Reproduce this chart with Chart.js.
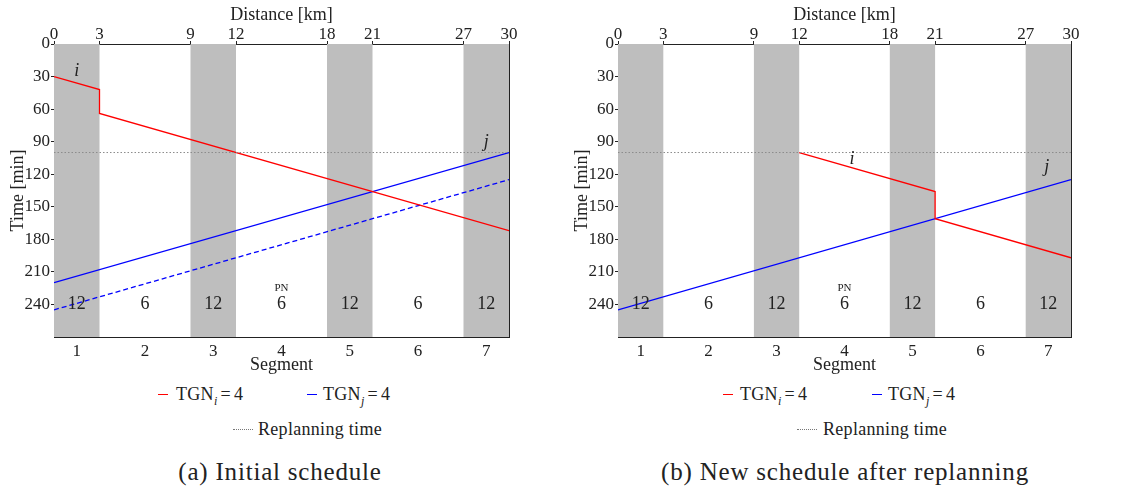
<!DOCTYPE html>
<html>
<head>
<meta charset="utf-8">
<script src="https://cdn.jsdelivr.net/npm/chart.js@4.4.0/dist/chart.umd.min.js"></script>
<style>
body{margin:0;background:#fff;width:1123px;height:492px;position:relative;overflow:hidden;font-family:"Liberation Serif",serif;color:#222;}
canvas{position:absolute;top:0;}
.lg{position:absolute;font-size:18px;line-height:20px;letter-spacing:0.3px;white-space:nowrap;}
.lg sub{font-size:12px;line-height:0;}
.eq{margin:0 3px;}
.sw{position:absolute;height:0;}
.cap{position:absolute;font-size:25px;letter-spacing:0.8px;transform:translateX(-50%);white-space:nowrap;}
</style>
</head>
<body>
<canvas id="chartA" width="530" height="380" style="left:0px"></canvas>
<canvas id="chartB" width="528" height="380" style="left:564px"></canvas>

<div class="sw" style="left:158px;top:394px;width:10px;border-top:1.5px solid #ff0000"></div>
<div class="lg" style="left:176px;top:384px">TGN<sub><i>i</i></sub><span class="eq">=</span>4</div>
<div class="sw" style="left:307px;top:394px;width:10px;border-top:1.5px solid #0000ff"></div>
<div class="lg" style="left:323px;top:384px">TGN<sub><i>j</i></sub><span class="eq">=</span>4</div>
<div class="sw" style="left:233px;top:429px;width:20px;border-top:1.5px dotted #777"></div>
<div class="lg" style="left:258px;top:419px">Replanning time</div>
<div class="cap" style="left:280px;top:458px">(a) Initial schedule</div>

<div class="sw" style="left:723px;top:394px;width:10px;border-top:1.5px solid #ff0000"></div>
<div class="lg" style="left:740px;top:384px">TGN<sub><i>i</i></sub><span class="eq">=</span>4</div>
<div class="sw" style="left:872px;top:394px;width:10px;border-top:1.5px solid #0000ff"></div>
<div class="lg" style="left:888px;top:384px">TGN<sub><i>j</i></sub><span class="eq">=</span>4</div>
<div class="sw" style="left:797px;top:429px;width:20px;border-top:1.5px dotted #777"></div>
<div class="lg" style="left:823px;top:419px">Replanning time</div>
<div class="cap" style="left:845px;top:458px">(b) New schedule after replanning</div>

<script>
// ================= DATA =================
const distanceTicks = [0, 3, 9, 12, 18, 21, 27, 30];   // segment boundaries [km]
const timeTicks = [0, 30, 60, 90, 120, 150, 180, 210, 240];
const timeMax = 270;
const segmentNames = ["1", "2", "3", "4", "5", "6", "7"];
const segmentTGN = ["12", "6", "12", "6", "12", "6", "12"];
const shadedSegments = [1, 3, 5, 7];
const replanTime = 100;

// (a) initial schedule
const initRedX = [0, 3, 3, 30];
const initRedY = [30, 42, 64, 172];
const initBlueX = [0, 30];
const initBlueY = [220, 100];
const initBlueDashX = [0, 30];
const initBlueDashY = [245, 125];

// (b) after replanning
const newRedX = [12, 21, 21, 30];
const newRedY = [100, 136, 161, 197];
const newBlueX = [0, 30];
const newBlueY = [245, 125];

const textColor = "#222";
const serif = "'Liberation Serif', serif";

function pts(xs, ys){
    return xs.map((x, k) => ({x: x, y: ys[k]}));
}

function lineSet(xs, ys, color, dash){
    return {
        data: pts(xs, ys),
        borderColor: color,
        borderWidth: 1.3,
        borderDash: dash || [],
        showLine: true,
        pointRadius: 0,
        fill: false
    };
}

// ================= PLUGIN: bands + annotations =================
function schedulePlugin(tags){
    return {
        id: "schedule",
        beforeDatasetsDraw(chart){
            const {ctx, chartArea: a, scales: {x}} = chart;
            ctx.save();
            ctx.fillStyle = "#bebebe";
            shadedSegments.forEach(s => {
                const x0 = x.getPixelForValue(distanceTicks[s - 1]);
                const x1 = x.getPixelForValue(distanceTicks[s]);
                ctx.fillRect(x0, a.top, x1 - x0, a.bottom - a.top);
            });
            ctx.restore();
        },
        afterDatasetsDraw(chart){
            const {ctx, scales: {x, y}} = chart;
            ctx.save();
            ctx.fillStyle = textColor;
            ctx.textAlign = "center";
            ctx.textBaseline = "middle";
            ctx.font = "18px " + serif;
            segmentTGN.forEach((t, s) => {
                const mid = (distanceTicks[s] + distanceTicks[s + 1]) / 2;
                ctx.fillText(t, x.getPixelForValue(mid), y.getPixelForValue(240));
            });
            ctx.font = "11px " + serif;
            ctx.fillText("PN", x.getPixelForValue(15), y.getPixelForValue(225));
            ctx.font = "italic 18px " + serif;
            tags.forEach(t => {
                ctx.fillText(t.text, x.getPixelForValue(t.x), y.getPixelForValue(t.y));
            });
            ctx.restore();
        }
    };
}

// ================= CHART =================
function makeChart(id, datasets, tags, padRight){

    const ctx = document.getElementById(id).getContext("2d");

    return new Chart(ctx, {
        type: "scatter",
        data: { datasets: datasets },
        plugins: [schedulePlugin(tags)],
        options: {
            responsive: false,
            animation: false,
            layout: { padding: { left: 0, right: padRight, top: 0, bottom: 0 } },
            plugins: { legend: { display: false }, tooltip: { enabled: false } },
            scales: {
                x: {
                    type: "linear", position: "bottom", min: 0, max: 30,
                    afterBuildTicks: s => {
                        s.ticks = segmentNames.map((n, k) => ({value: (distanceTicks[k] + distanceTicks[k + 1]) / 2}));
                    },
                    afterFit: s => { s.height = 43; },
                    ticks: {
                        autoSkip: false, maxRotation: 0, padding: 6,
                        color: textColor, font: {family: serif, size: 17, lineHeight: 1},
                        callback: (v, k) => segmentNames[k]
                    },
                    grid: { display: false, drawTicks: false },
                    border: { display: true, color: "#222", width: 1 },
                    title: { display: true, text: "Segment", color: textColor,
                             font: {family: serif, size: 18}, padding: {top: 0, bottom: 4} }
                },
                x2: {
                    type: "linear", position: "top", min: 0, max: 30,
                    afterBuildTicks: s => { s.ticks = distanceTicks.map(v => ({value: v})); },
                    afterFit: s => { s.height = 44; },
                    ticks: {
                        autoSkip: false, maxRotation: 0, padding: -2,
                        color: textColor, font: {family: serif, size: 17, lineHeight: 1},
                        callback: v => String(v)
                    },
                    grid: { display: true, drawOnChartArea: false, drawTicks: true, tickLength: 3, color: "#222" },
                    border: { display: true, color: "#222", width: 1 },
                    title: { display: true, text: "Distance [km]", color: textColor,
                             font: {family: serif, size: 18}, padding: {top: 4, bottom: 0} }
                },
                y: {
                    type: "linear", position: "left", min: 0, max: timeMax, reverse: true,
                    afterBuildTicks: s => { s.ticks = timeTicks.map(v => ({value: v})); },
                    afterFit: s => { s.width = 54; },
                    ticks: {
                        autoSkip: false, padding: 1,
                        color: textColor, font: {family: serif, size: 17, lineHeight: 1},
                        callback: v => String(v)
                    },
                    grid: { display: true, drawOnChartArea: false, drawTicks: true, tickLength: 3, color: "#222" },
                    border: { display: true, color: "#222", width: 1 },
                    title: { display: true, text: "Time [min]", color: textColor,
                             font: {family: serif, size: 18}, padding: {top: 7, bottom: 0} }
                },
                y2: {
                    type: "linear", position: "right", min: 0, max: timeMax,
                    afterFit: s => { s.width = 0; },
                    ticks: { display: false },
                    grid: { display: false, drawTicks: false },
                    border: { display: true, color: "#222", width: 1 }
                }
            }
        }
    });
}

const replanA = lineSet([0, 30], [replanTime, replanTime], "#8c8c8c", [1.5, 2]);
replanA.borderWidth = 1;
makeChart("chartA", [
    replanA,
    lineSet(initRedX, initRedY, "#ff0000"),
    lineSet(initBlueX, initBlueY, "#0000ff"),
    lineSet(initBlueDashX, initBlueDashY, "#0000ff", [5, 3])
], [
    {text: "i", x: 1.5, y: 25},
    {text: "j", x: 28.5, y: 91}
], 21);

const replanB = lineSet([0, 30], [replanTime, replanTime], "#8c8c8c", [1.5, 2]);
replanB.borderWidth = 1;
makeChart("chartB", [
    replanB,
    lineSet(newRedX, newRedY, "#ff0000"),
    lineSet(newBlueX, newBlueY, "#0000ff")
], [
    {text: "i", x: 15.5, y: 106},
    {text: "j", x: 28.4, y: 114}
], 21);
</script>
</body>
</html>
